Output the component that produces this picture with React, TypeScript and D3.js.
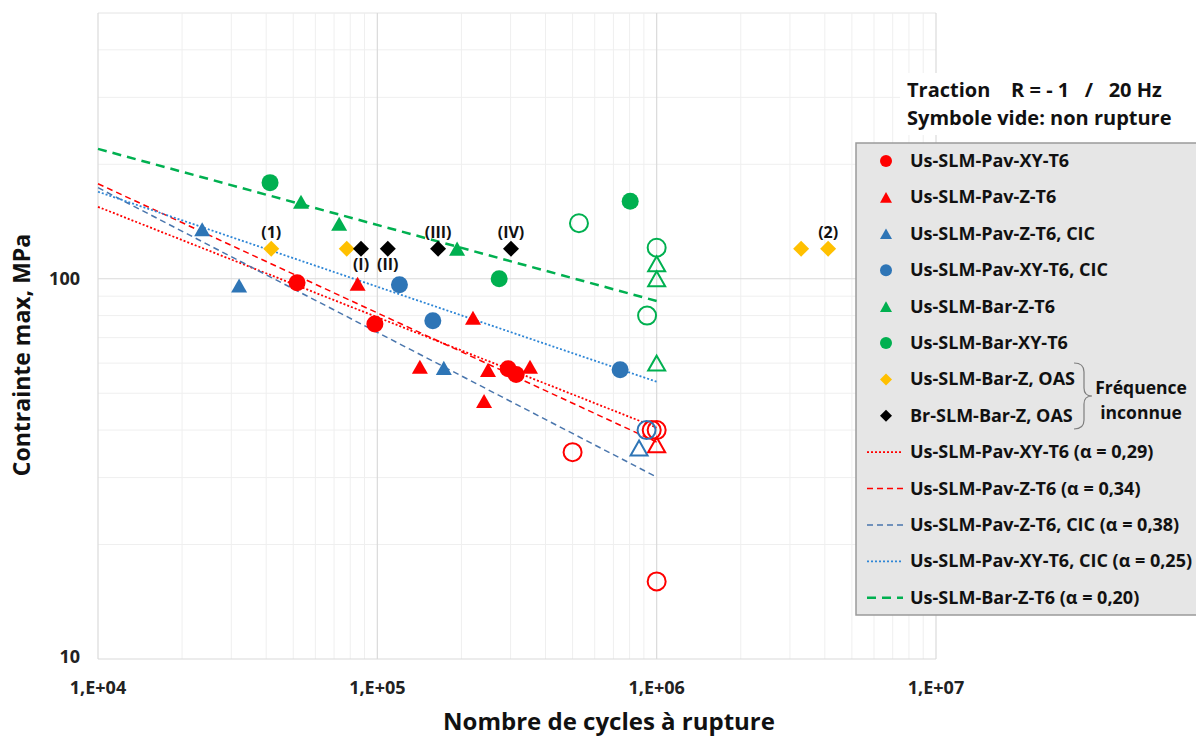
import React from 'react';
import * as d3 from 'd3';

// ---------- data (N cycles, stress MPa) ----------
const redCircleFilled: [number, number][] = [[5.16e4, 97.6], [9.8e4, 76], [2.94e5, 58], [3.14e5, 56]];
const redCircleOpen: [number, number][] = [[5.0e5, 35], [9.6e5, 40], [1.0e6, 40], [1.0e6, 16]];
const redTriFilled: [number, number][] = [[8.5e4, 97], [2.2e5, 79], [1.42e5, 58.7], [2.49e5, 57.6], [3.52e5, 58.7], [2.41e5, 47.7]];
const redTriOpen: [number, number][] = [[1.0e6, 36.6]];
const blueTriFilled: [number, number][] = [[2.36e4, 135], [3.2e4, 96], [1.73e5, 58.3]];
const blueTriOpen: [number, number][] = [[8.65e5, 35.9]];
const blueCircFilled: [number, number][] = [[1.2e5, 96.4], [1.58e5, 77.5], [7.4e5, 57.6]];
const blueCircOpen: [number, number][] = [[9.2e5, 40]];
const greenTriFilled: [number, number][] = [[5.33e4, 159.5], [7.3e4, 139.5], [1.93e5, 120]];
const greenTriOpen: [number, number][] = [[1e6, 109.5], [1e6, 100], [1e6, 60]];
const greenCircFilled: [number, number][] = [[4.13e4, 179], [2.73e5, 100], [8.04e5, 160]];
const greenCircOpen: [number, number][] = [[5.27e5, 140], [1e6, 120.7], [9.24e5, 80]];
const yellowDiamonds: [number, number][] = [[4.17e4, 120], [7.77e4, 120], [3.29e6, 120], [4.11e6, 120]];
const blackDiamonds: [number, number][] = [[8.74e4, 120], [1.09e5, 120], [1.65e5, 120], [3.01e5, 120]];

// trend lines (endpoints)
const trendRedXY: [number, number][] = [[1e4, 154.6], [1e6, 40.6]];
const trendRedZ: [number, number][] = [[1e4, 177.8], [1e6, 37.2]];
const trendBlueZ: [number, number][] = [[1e4, 173.6], [1e6, 30.1]];
const trendBlueXY: [number, number][] = [[1e4, 169.4], [1e6, 53.6]];
const trendGreenZ: [number, number][] = [[1e4, 219.6], [1e6, 87.4]];

// annotations: label, attached point, above(-1)/below(1)
const annotations: [string, number, number, number][] = [
  ['(1)', 4.17e4, 120, -1], ['(I)', 8.74e4, 120, 1], ['(II)', 1.09e5, 120, 1],
  ['(III)', 1.65e5, 120, -1], ['(IV)', 3.01e5, 120, -1], ['(2)', 4.11e6, 120, -1],
];

const xTicks = [1e4, 1e5, 1e6, 1e7];
const xTickLabels = ['1,E+04', '1,E+05', '1,E+06', '1,E+07'];
const yTicks = [10, 100];
const yTickLabels = ['10', '100'];

const legendMarkers = [
  { label: 'Us-SLM-Pav-XY-T6', shape: 'circle', color: '#ff0000' },
  { label: 'Us-SLM-Pav-Z-T6', shape: 'triangle', color: '#ff0000' },
  { label: 'Us-SLM-Pav-Z-T6, CIC', shape: 'triangle', color: '#2e75b6' },
  { label: 'Us-SLM-Pav-XY-T6, CIC', shape: 'circle', color: '#2e75b6' },
  { label: 'Us-SLM-Bar-Z-T6', shape: 'triangle', color: '#00b050' },
  { label: 'Us-SLM-Bar-XY-T6', shape: 'circle', color: '#00b050' },
  { label: 'Us-SLM-Bar-Z, OAS', shape: 'diamond', color: '#ffc000' },
  { label: 'Br-SLM-Bar-Z, OAS', shape: 'diamond', color: '#000000' },
];
const legendLines = [
  { label: 'Us-SLM-Pav-XY-T6 (α = 0,29)', color: '#ff0000', dash: '2,2', w: 1.8 },
  { label: 'Us-SLM-Pav-Z-T6 (α = 0,34)', color: '#ff0000', dash: '6,4', w: 1.5 },
  { label: 'Us-SLM-Pav-Z-T6, CIC (α = 0,38)', color: '#4a76ad', dash: '6,4', w: 1.5 },
  { label: 'Us-SLM-Pav-XY-T6, CIC (α = 0,25)', color: '#2e86d6', dash: '2,2', w: 1.8 },
  { label: 'Us-SLM-Bar-Z-T6 (α = 0,20)', color: '#00b050', dash: '9,6', w: 2.5 },
];

const FONT = "'Open Sans', 'Liberation Sans', sans-serif";
const W = 1196;
const H = 737;

const x = d3.scaleLog().domain([1e4, 1e7]).range([98, 936]);
const y = d3.scaleLog().domain([10, 500]).range([659, 13]);

function markerPath(shape: string, cx: number, cy: number, s: number): string {
  if (shape === 'triangle') {
    const w = s, h = s * 0.88;
    return `M${cx},${cy - h / 2}L${cx + w / 2},${cy + h / 2}L${cx - w / 2},${cy + h / 2}Z`;
  }
  if (shape === 'diamond') {
    const r = s / 2;
    return `M${cx},${cy - r}L${cx + r},${cy}L${cx},${cy + r}L${cx - r},${cy}Z`;
  }
  return '';
}

function Marker({ shape, cx, cy, s, color, open }: any) {
  const fill = open ? 'none' : color;
  const stroke = open ? color : 'none';
  if (shape === 'circle') {
    return <circle cx={cx} cy={cy} r={open ? s / 2 - 0.5 : s / 2} fill={fill} stroke={stroke} strokeWidth={open ? 2 : 0} />;
  }
  return <path d={markerPath(shape, cx, cy, s)} fill={fill} stroke={stroke} strokeWidth={open ? 2 : 0} strokeLinejoin="miter" />;
}

export default function App() {
  const minorX: number[] = [];
  [1e4, 1e5, 1e6].forEach(d => { for (let k = 2; k <= 9; k++) minorX.push(k * d); });
  const minorY: number[] = [];
  [10, 100].forEach(d => { for (let k = 2; k <= 9; k++) { const v = k * d; if (v <= 500) minorY.push(v); } });

  const line = d3.line<[number, number]>().x(d => x(d[0])).y(d => y(d[1]));

  const series: { data: [number, number][]; shape: string; color: string; open: boolean }[] = [
    { data: redCircleOpen, shape: 'circle', color: '#ff0000', open: true },
    { data: redTriOpen, shape: 'triangle', color: '#ff0000', open: true },
    { data: blueTriOpen, shape: 'triangle', color: '#2e75b6', open: true },
    { data: blueCircOpen, shape: 'circle', color: '#2e75b6', open: true },
    { data: greenTriOpen, shape: 'triangle', color: '#00b050', open: true },
    { data: greenCircOpen, shape: 'circle', color: '#00b050', open: true },
    { data: redCircleFilled, shape: 'circle', color: '#ff0000', open: false },
    { data: redTriFilled, shape: 'triangle', color: '#ff0000', open: false },
    { data: blueTriFilled, shape: 'triangle', color: '#2e75b6', open: false },
    { data: blueCircFilled, shape: 'circle', color: '#2e75b6', open: false },
    { data: greenTriFilled, shape: 'triangle', color: '#00b050', open: false },
    { data: greenCircFilled, shape: 'circle', color: '#00b050', open: false },
    { data: yellowDiamonds, shape: 'diamond', color: '#ffc000', open: false },
    { data: blackDiamonds, shape: 'diamond', color: '#000000', open: false },
  ];

  const trends = [trendRedXY, trendRedZ, trendBlueZ, trendBlueXY, trendGreenZ];

  const legX = 856, legY = 143, legW = 350, legH = 472;
  const rowY0 = 161, rowStep = 36.4;
  const legFont = 18;

  return (
    <svg width={W} height={H} style={{ position: 'absolute', left: 0, top: 0, background: '#fff' }} fontFamily={FONT}>
      <rect x={0} y={0} width={W} height={H} fill="#fff" />
      {/* minor grid */}
      {minorX.map((v, i) => <line key={'mx' + i} x1={x(v)} x2={x(v)} y1={y(500)} y2={y(10)} stroke="#efefef" strokeWidth={1} />)}
      {minorY.map((v, i) => <line key={'my' + i} x1={x(1e4)} x2={x(1e7)} y1={y(v)} y2={y(v)} stroke="#efefef" strokeWidth={1} />)}
      <line x1={x(1e4)} x2={x(1e7)} y1={y(500)} y2={y(500)} stroke="#ececec" strokeWidth={1} />
      {/* major grid */}
      {xTicks.map((v, i) => <line key={'Mx' + i} x1={x(v)} x2={x(v)} y1={y(500)} y2={y(10)} stroke="#dadada" strokeWidth={1.2} />)}
      {yTicks.map((v, i) => <line key={'My' + i} x1={x(1e4)} x2={x(1e7)} y1={y(v)} y2={y(v)} stroke="#dadada" strokeWidth={1.2} />)}

      {/* tick labels */}
      {xTicks.map((v, i) => (
        <text key={'xt' + i} x={x(v)} y={693.5} textAnchor="middle" fontSize={18} fontWeight={700} fill="#222">{xTickLabels[i]}</text>
      ))}
      {yTicks.map((v, i) => (
        <text key={'yt' + i} x={80} y={y(v) + 6.5 - (i === 0 ? 3 : 0)} textAnchor="end" fontSize={18} fontWeight={700} fill="#222">{yTickLabels[i]}</text>
      ))}

      {/* axis titles */}
      <text x={609} y={730} textAnchor="middle" fontSize={24} fontWeight={700} fill="#111">Nombre de cycles à rupture</text>
      <text transform="translate(30,355) rotate(-90)" textAnchor="middle" fontSize={23} fontWeight={700} fill="#111">Contrainte max, MPa</text>

      {/* trend lines */}
      {trends.map((t, i) => (
        <path key={'tr' + i} d={line(t) || ''} fill="none" stroke={legendLines[i].color} strokeWidth={legendLines[i].w} strokeDasharray={legendLines[i].dash} />
      ))}

      {/* points */}
      {series.map((s, si) => s.data.map((d, i) => (
        <Marker key={si + '-' + i} shape={s.shape} cx={x(d[0])} cy={y(d[1])} s={s.shape === 'circle' ? (s.open ? 19 : 17) : s.shape === 'diamond' ? 16 : (s.open ? 17 : 16)} color={s.color} open={s.open} />
      )))}

      {/* annotations */}
      {annotations.map(([lab, n, v, dir], i) => (
        <text key={'an' + i} x={x(n)} y={y(v) + (dir < 0 ? -11 : 21)} textAnchor="middle" fontSize={16} fontWeight={700} fill="#111">{lab}</text>
      ))}

      {/* header box */}
      <rect x={900} y={73} width={296} height={62} fill="#fff" />
      <text x={907} y={97} fontSize={20} fontWeight={700} fill="#111" xmlSpace="preserve">{'Traction    R = - 1   /   20 Hz'}</text>
      <text x={907} y={125} fontSize={20} fontWeight={700} fill="#111">Symbole vide: non rupture</text>

      {/* legend */}
      <rect x={legX} y={legY} width={legW} height={legH} fill="#e6e6e6" stroke="#9a9a9a" strokeWidth={1.5} />
      {legendMarkers.map((e, i) => {
        const cy = rowY0 + i * rowStep;
        return (
          <g key={'lm' + i}>
            <Marker shape={e.shape} cx={886} cy={cy} s={12} color={e.color} open={false} />
            <text x={910} y={cy + 6} fontSize={legFont} fontWeight={700} fill="#111">{e.label}</text>
          </g>
        );
      })}
      {legendLines.map((e, i) => {
        const cy = rowY0 + (i + 8) * rowStep;
        return (
          <g key={'ll' + i}>
            <line x1={867} x2={903} y1={cy} y2={cy} stroke={e.color} strokeWidth={e.w} strokeDasharray={e.dash} />
            <text x={910} y={cy + 6} fontSize={legFont} fontWeight={700} fill="#111">{e.label}</text>
          </g>
        );
      })}
      {/* brace */}
      <path d="M1074,363 Q1084,363 1084,372 L1084,388 Q1084,396 1092,396 Q1084,396 1084,404 L1084,420 Q1084,429 1074,429" fill="none" stroke="#7f7f7f" strokeWidth={1.2} />
      <text x={1141} y={394} textAnchor="middle" fontSize={17.5} fontWeight={700} fill="#111">Fréquence</text>
      <text x={1141} y={419} textAnchor="middle" fontSize={17.5} fontWeight={700} fill="#111">inconnue</text>
    </svg>
  );
}
